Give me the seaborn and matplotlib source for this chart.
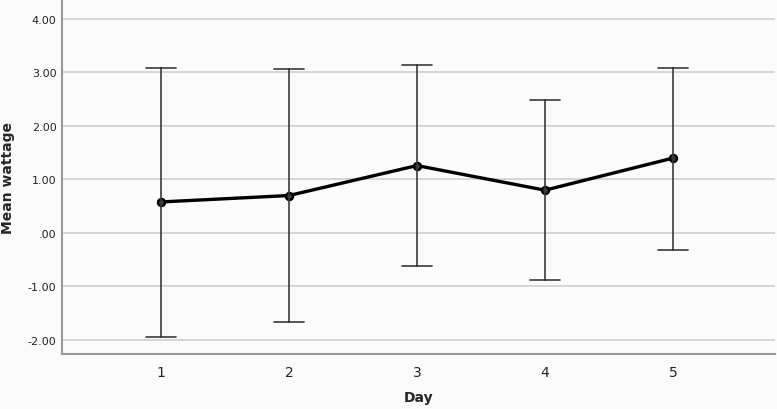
import numpy as np
import pandas as pd
import matplotlib
matplotlib.use("Agg")
import matplotlib.pyplot as plt
import seaborn as sns

days = ["1", "2", "3", "4", "5"]
means = [0.58, 0.70, 1.26, 0.80, 1.40]
lower = [-1.94, -1.66, -0.62, -0.87, -0.31]
upper = [3.09, 3.07, 3.14, 2.48, 3.09]
ytick_vals = [-2, -1, 0, 1, 2, 3, 4]
ytick_labels = ["-2.00", "-1.00", ".00", "1.00", "2.00", "3.00", "4.00"]

rows = []
for d, m, lo, hi in zip(days, means, lower, upper):
    for v in (lo, m, hi):
        rows.append({"Day": d, "value": v})
df = pd.DataFrame(rows)

sns.set_style("white")
plt.rcParams["font.family"] = ["DejaVu Sans"]

fig = plt.figure(figsize=(7.77, 4.10), dpi=100, facecolor="#fbfbfb")
ax = fig.add_axes([62 / 777, 55 / 410, 713 / 777, 353 / 410])
ax.set_facecolor("#fbfbfb")

sns.pointplot(
    data=df, x="Day", y="value", order=days,
    estimator="median",
    errorbar=lambda v: (v.min(), v.max()),
    color="black", capsize=0.24,
    markersize=5, linewidth=2.4,
    err_kws={"linewidth": 1.2, "color": "#3a3a3a"},
    ax=ax, zorder=3,
)
for ln in ax.lines:
    if ln.get_marker() not in (None, "None", ""):
        ln.set_markerfacecolor("#444444")
        ln.set_markeredgecolor("black")

ax.set_xlim(-0.773, 4.797)
ax.set_ylim(-2.262, 4.336)
ax.set_yticks(ytick_vals)
ax.set_yticklabels(ytick_labels)
ax.yaxis.grid(True, color="#cfcfcf", linewidth=1.2, zorder=0)
ax.set_axisbelow(True)
ax.tick_params(axis="both", length=0, labelsize=8, colors="#222222")
ax.tick_params(axis="x", labelsize=10, pad=8)
ax.tick_params(axis="y", pad=4)

for s in ("top", "right"):
    ax.spines[s].set_visible(False)
for s in ("left", "bottom"):
    ax.spines[s].set_color("#999999")
    ax.spines[s].set_linewidth(1.5)

ax.set_xlabel("Day", fontsize=10, fontweight="bold", labelpad=8)
ax.set_ylabel("Mean wattage", fontsize=10, fontweight="bold", labelpad=9)

fig.savefig("out.png", dpi=100, facecolor=fig.get_facecolor())
